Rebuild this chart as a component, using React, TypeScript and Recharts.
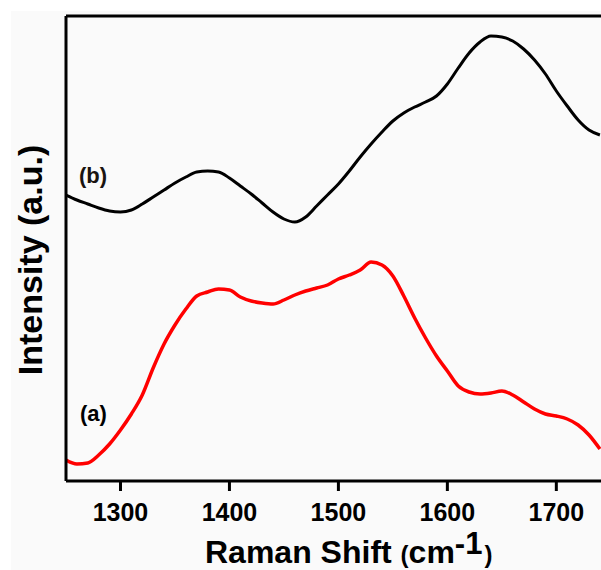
import { LineChart, Line, XAxis, YAxis, ReferenceLine, Customized } from "recharts";

// Raman shift grid (cm-1)
const shifts = [
  1250, 1260, 1270, 1280, 1290, 1300, 1310, 1320, 1330, 1340, 1350, 1360, 1370, 1380, 1390, 1400, 1410,
  1420, 1430, 1440, 1450, 1460, 1470, 1480, 1490, 1500, 1510, 1520, 1530, 1540, 1550, 1560, 1570, 1580,
  1590, 1600, 1610, 1620, 1630, 1640, 1650, 1660, 1670, 1680, 1690, 1700, 1710, 1720, 1730, 1740,
];

// spectrum (a), red
const spectrumA = [
  21, 17, 18, 26, 37, 51, 67, 86, 113, 137, 156, 172, 185, 189, 192, 191, 184, 180, 178, 177, 181, 186,
  190, 193, 196, 202, 206, 211, 219, 216, 205, 185, 163, 143, 125, 110, 95, 89, 87, 88, 90, 86, 79, 72, 67,
  65, 62, 56, 46, 32,
];

// spectrum (b), black, offset upward
const spectrumB = [
  286, 281, 277, 273, 270, 269, 271, 277, 284, 291, 298, 304, 309, 310, 309, 303, 295, 287, 278, 269, 262,
  259, 264, 275, 286, 297, 310, 324, 337, 349, 360, 368, 374, 379, 385, 397, 413, 428, 439, 445, 444, 440,
  432, 421, 407, 390, 375, 361, 351, 346,
];

const xTicks = [1300, 1400, 1500, 1600, 1700];

const data = shifts.map((x, i) => ({ x, a: spectrumA[i], b: spectrumB[i] }));

const font = "'Liberation Sans', Arial, sans-serif";

const Annotations = () => (
  <g fontFamily={font} fontWeight="bold" fill="#000">
    <text x={79} y={183} fontSize={22} fill="#1a1410">
      (b)
    </text>
    <text x={80} y={421} fontSize={22}>
      (a)
    </text>
    <text x={205} y={563} fontSize={32}>
      Raman Shift <tspan fontSize={24}>(</tspan>cm
      <tspan dy={-9} fontSize={31}>-1</tspan>
      <tspan dx={2} dy={9} fontSize={24}>)</tspan>
    </text>
    <text x={0} y={0} fontSize={34} textAnchor="middle" transform="translate(42 260) rotate(-90)">
      Intensity (a.u.)
    </text>
  </g>
);

export default function App() {
  return (
    <div style={{ position: "absolute", left: 0, top: 0, width: 601, height: 570, background: "#fff" }}>
      <div style={{ position: "absolute", left: 11, top: 11, right: 0, bottom: 0, background: "#fafafa" }} />
      <LineChart
        width={601}
        height={570}
        data={data}
        margin={{ top: 16, right: 0, bottom: 0, left: 0 }}
        style={{ position: "absolute", left: 0, top: 0 }}
      >
        <XAxis
          dataKey="x"
          type="number"
          domain={[1250, 1741]}
          allowDataOverflow
          ticks={xTicks}
          height={89}
          tickSize={10}
          tickMargin={12}
          axisLine={{ stroke: "#000", strokeWidth: 3 }}
          tickLine={{ stroke: "#000", strokeWidth: 3 }}
          tick={{ fill: "#000", fontSize: 25, fontWeight: "bold", fontFamily: font }}
        />
        <YAxis
          type="number"
          domain={[0, 465]}
          allowDataOverflow
          width={66}
          tick={false}
          tickLine={false}
          axisLine={{ stroke: "#000", strokeWidth: 3 }}
        />
        <ReferenceLine y={465} stroke="#000" strokeWidth={3} />
        <Line
          type="monotone"
          dataKey="b"
          stroke="#000"
          strokeWidth={3}
          dot={false}
          isAnimationActive={false}
        />
        <Line
          type="monotone"
          dataKey="a"
          stroke="#ff0000"
          strokeWidth={3.5}
          dot={false}
          isAnimationActive={false}
        />
        <Customized component={Annotations} />
      </LineChart>
    </div>
  );
}
